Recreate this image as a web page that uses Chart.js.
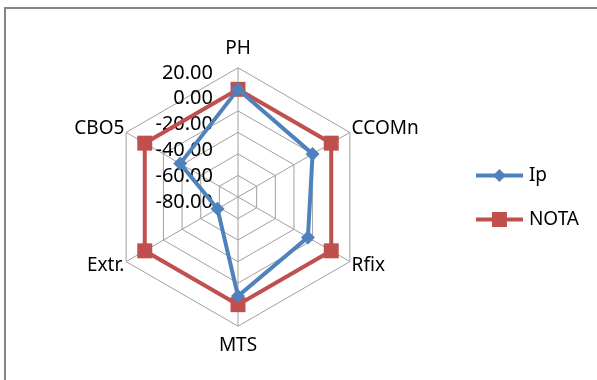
<!DOCTYPE html>
<html>
<head>
<meta charset="utf-8">
<script src="https://cdn.jsdelivr.net/npm/chart.js@4"></script>
<style>
  html, body { margin: 0; padding: 0; background: #fff; }
  #wrap { width: 597px; height: 380px; }
</style>
</head>
<body>
<div id="wrap"><canvas id="chart1" width="597" height="380"></canvas></div>
<script>
// data
var categories = ['PH', 'CCOMn', 'Rfix', 'MTS', 'Extr.', 'CBO5'];
var ipValues = [0, -20, -25, -8, -78, -38];
var notaValues = [0, 0, 0, 0, 0, 0];
var scaleMin = -100;
var scaleMax = 20;
var scaleStep = 20;

var blue = '#4F81BD';
var red = '#C0504D';
var font = '"Noto Sans", sans-serif';

// little line+marker pictures for the legend
function legendIcon(color, shape) {
  var c = document.createElement('canvas');
  c.width = 47; c.height = 17;
  var g = c.getContext('2d');
  g.strokeStyle = color; g.fillStyle = color; g.lineWidth = 4;
  g.beginPath(); g.moveTo(0, 8.5); g.lineTo(47, 8.5); g.stroke();
  g.beginPath();
  if (shape == 'rect') {
    g.rect(16, 1, 15, 15);
  } else {
    g.moveTo(23.5, 2); g.lineTo(30, 8.5); g.lineTo(23.5, 15); g.lineTo(17, 8.5); g.closePath();
  }
  g.fill();
  return c;
}
var icons = [legendIcon(blue, 'rectRot'), legendIcon(red, 'rect')];

// grey frame round the chart (it runs off the right and bottom edges)
var framePlugin = {
  id: 'frame',
  beforeDraw: function(chart) {
    var ctx = chart.ctx;
    ctx.save();
    ctx.fillStyle = '#fff';
    ctx.fillRect(0, 0, chart.width, chart.height);
    ctx.strokeStyle = '#868686';
    ctx.lineWidth = 2;
    ctx.strokeRect(5, 8, chart.width + 20, chart.height + 20);
    ctx.restore();
  }
};

// value labels sit left of the vertical axis, spread out like Excel does
var tickPlugin = {
  id: 'sideTicks',
  beforeDatasetsDraw: function(chart) {
    var s = chart.scales.r;
    var ticks = s.ticks.filter(function(t) { return t.value > s.min; })
      .sort(function(a, b) { return b.value - a.value; });
    var ctx = chart.ctx;
    ctx.save();
    ctx.font = '20px ' + font;
    ctx.fillStyle = '#000';
    ctx.textAlign = 'right';
    ctx.textBaseline = 'middle';
    ticks.forEach(function(t, k) {
      var y = s.yCenter - s.drawingArea + 5 + k * s.drawingArea / 5;
      ctx.fillText(t.value.toFixed(2), s.xCenter - 25, y);
    });
    ctx.restore();
  }
};

var ctx = document.getElementById('chart1').getContext('2d');
var chart = new Chart(ctx, {
  type: 'radar',
  data: {
    labels: categories,
    datasets: [{
      label: 'Ip',
      data: ipValues,
      borderColor: blue,
      backgroundColor: blue,
      borderWidth: 4,
      fill: false,
      pointStyle: 'rectRot',
      pointRadius: 7,
      pointBorderWidth: 0
    }, {
      label: 'NOTA',
      data: notaValues,
      borderColor: red,
      backgroundColor: red,
      borderWidth: 4,
      fill: false,
      pointStyle: 'rect',
      pointRadius: 10.6,
      pointBorderWidth: 0
    }]
  },
  options: {
    responsive: false,
    animation: false,
    layout: { padding: { top: 37, bottom: 22, left: 23, right: 8 } },
    elements: { line: { tension: 0 } },
    scales: {
      r: {
        min: scaleMin,
        max: scaleMax,
        ticks: { stepSize: scaleStep, display: false },
        grid: { color: '#a0a0a0', lineWidth: 1 },
        angleLines: { color: '#a0a0a0', lineWidth: 1 },
        pointLabels: {
          color: '#000',
          padding: function(c) { return (c.index == 0 || c.index == 3) ? 8 : 2; },
          font: function(c) {
            var side = !(c.index == 0 || c.index == 3);
            return { family: font, size: 19, lineHeight: side ? '6px' : 1.2 };
          }
        }
      }
    },
    plugins: {
      legend: {
        position: 'right',
        labels: {
          color: '#000',
          font: { family: font, size: 19 },
          usePointStyle: true,
          pointStyleWidth: 40,
          padding: 25,
          generateLabels: function(chart) {
            var items = Chart.defaults.plugins.legend.labels.generateLabels(chart);
            items.forEach(function(it, i) { it.pointStyle = icons[i]; });
            return items;
          }
        }
      },
      tooltip: { enabled: false }
    }
  },
  plugins: [framePlugin, tickPlugin]
});
</script>
</body>
</html>
